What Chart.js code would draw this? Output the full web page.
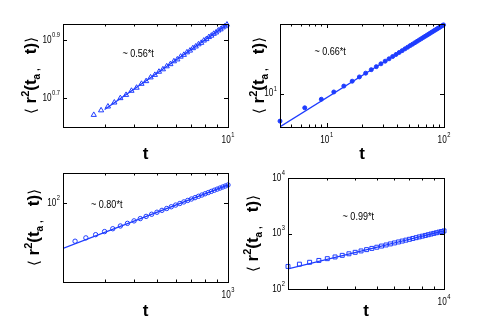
<!DOCTYPE html>
<html><head><meta charset="utf-8">
<script src="https://cdn.jsdelivr.net/npm/chart.js@4"></script>
<style>
html,body{margin:0;padding:0;background:#fff;}
#wrap{position:relative;width:491px;height:327px;overflow:hidden;background:#fff;}
#wrap canvas{position:absolute;left:0;top:0;}
</style></head><body>
<div id="wrap">
<canvas id="c1" width="491" height="327"></canvas>
<canvas id="c2" width="491" height="327"></canvas>
<canvas id="c3" width="491" height="327"></canvas>
<canvas id="c4" width="491" height="327"></canvas>
</div>
<script>
// ---------- DATA ----------
// Panel 1 (triangles)
const p1T = [2.7,2.9,3.1,3.3,3.5,3.7,3.9,4.1,4.3,4.5,4.7,4.9,5.1,5.3,5.5,5.7,5.9,6.1,6.3,6.5,6.7,6.9,7.1,7.3,7.5,7.7,7.9,8.1,8.3,8.5,8.7,8.9,9.1,9.3,9.5,9.7,9.9];
const p1R = [4.40,4.56,4.70,4.85,5.02,5.15,5.32,5.45,5.62,5.74,5.91,6.03,6.18,6.30,6.45,6.56,6.71,6.81,6.96,7.06,7.20,7.30,7.44,7.54,7.67,7.76,7.90,7.99,8.12,8.21,8.33,8.42,8.55,8.63,8.76,8.84,8.96];
const p1FitT = [3.0, 10];
const p1FitR = [4.59, 9.0];
const p1XExp = ['1'];
const p1YExp = ['0.7','0.9'];
const p1Note = '~ 0.56*t';

// Panel 2 (dots)
const p2T = [4,6.5,9,11.5,14,16.5,19,21.5,24,26.5,29,31.5,34,36.5,39,41.5,44,46.5,49,51.5,54,56.5,59,61.5,64,66.5,69,71.5,74,76.5,79,81.5,84,86.5,89,91.5,94,96.5,99];
const p2R = [5.65,7.45,8.90,10.35,11.70,12.95,14.15,15.30,16.45,17.52,18.58,19.63,20.62,21.62,22.57,23.52,24.44,25.35,26.23,27.12,27.97,28.83,29.65,30.49,31.29,32.09,32.88,33.67,34.43,35.20,35.95,36.70,37.43,38.18,38.89,39.62,40.32,41.04,41.72];
const p2FitT = [4, 100];
const p2FitR = [5.02, 42.0];
const p2XExp = ['1','2'];
const p2YExp = ['1'];
const p2Note = '~ 0.66*t';

// Panel 3 (circles)
const p3T = [225,250,275,300,325,350,375,400,425,450,475,500,525,550,575,600,625,650,675,700,725,750,775,800,825,850,875,900,925,950,975,1000];
const p3R = [45.8,49.0,52.3,55.7,59.0,62.4,65.8,69.2,72.5,75.8,79.2,82.5,85.7,89.0,92.2,95.4,98.5,101.7,104.8,107.9,110.9,114.0,117.0,120.0,123.0,126.0,129.0,131.9,134.8,137.7,140.6,143.5];
const p3FitT = [200, 1000];
const p3FitR = [39.6, 143.5];
const p3XExp = ['3'];
const p3YExp = ['2'];
const p3Note = '~ 0.80*t';

// Panel 4 (squares)
const p4T = [2000,2250,2500,2750,3000,3250,3500,3750,4000,4250,4500,4750,5000,5250,5500,5750,6000,6250,6500,6750,7000,7250,7500,7750,8000,8250,8500,8750,9000,9250,9500,9750,10000];
const p4R = [255,280,303,327,352,378,404,431,458,485,512,539,566,594,621,649,676,704,731,759,786,814,841,869,896,923,951,978,1005,1032,1060,1087,1114];
const p4FitT = [2000, 10000];
const p4FitR = [231, 1114];
const p4XExp = ['4'];
const p4YExp = ['2','3','4'];
const p4Note = '~ 0.99*t';

const xTitle = 't';
const yTitleParts = ['\u27E8', ' r', '2', '(t', 'a', ' ,', '   t)', '\u27E9'];

// ---------- DRAWING ----------
const BLUE = 'rgb(30,60,255)';
const FONT = '"Liberation Sans",sans-serif';
const SQZ = 0.82;

function narrowText(ctx, s, x, y) {
  ctx.save(); ctx.translate(x, y); ctx.scale(SQZ, 1); ctx.fillText(s, 0, 0); ctx.restore();
}

function drawPow(ctx, x, y, exp, align) {
  const bf = '10px ' + FONT, ef = '7px ' + FONT;
  ctx.font = bf; const wb = ctx.measureText('10').width * SQZ;
  ctx.font = ef; const we = ctx.measureText(exp).width * SQZ;
  const tot = wb + we + 0.5;
  let sx = align === 'right' ? x - tot : x - tot / 2;
  ctx.textAlign = 'left'; ctx.textBaseline = 'middle';
  ctx.font = bf; narrowText(ctx, '10', sx, y);
  ctx.font = ef; narrowText(ctx, exp, sx + wb + 0.5, y - 5);
}

function drawYTitle(ctx, cx, cy) {
  const fonts = ['15px "DejaVu Sans"', 'bold 17px "Liberation Sans"', 'bold 11px "Liberation Sans"',
    'bold 17px "Liberation Sans"', 'bold 10px "Liberation Sans"', 'bold 10px "Liberation Sans"',
    'bold 17px "Liberation Sans"', '15px "DejaVu Sans"'];
  const dys = [0, 0, -7, 0, 4, 3, 0, 0];
  let tot = 0; const ws = [];
  yTitleParts.forEach((s, i) => { ctx.font = fonts[i]; const w = ctx.measureText(s).width; ws.push(w); tot += w; });
  ctx.save();
  ctx.translate(cx, cy); ctx.rotate(-Math.PI / 2);
  ctx.textAlign = 'left'; ctx.textBaseline = 'alphabetic'; ctx.fillStyle = '#000';
  let x = -tot / 2;
  yTitleParts.forEach((s, i) => { ctx.font = fonts[i]; ctx.fillText(s, x, 5 + dys[i]); x += ws[i]; });
  ctx.restore();
}

const panelPlugin = {
  id: 'panel',
  afterDatasetsDraw(chart, args, o) {
    const ctx = chart.ctx, a = chart.chartArea, xs = chart.scales.x, ys = chart.scales.y;
    ctx.save();
    ctx.strokeStyle = '#000'; ctx.lineWidth = 1;
    ctx.strokeRect(a.left + 0.5, a.top + 0.5, a.right - a.left, a.bottom - a.top);
    const d0 = Math.floor(Math.log10(xs.min)), d1 = Math.ceil(Math.log10(xs.max));
    ctx.beginPath();
    for (let d = d0; d <= d1; d++) {
      for (let m = 1; m <= 9; m++) {
        const v = m * Math.pow(10, d);
        if (v <= xs.min * 1.0001 || v >= xs.max * 0.9999) continue;
        const px = Math.round(xs.getPixelForValue(v)) + 0.5;
        const len = m === 1 ? 4 : 2.5;
        ctx.moveTo(px, a.bottom); ctx.lineTo(px, a.bottom - len);
        ctx.moveTo(px, a.top); ctx.lineTo(px, a.top + len);
      }
    }
    o.yExp.forEach(e => {
      const v = Math.pow(10, parseFloat(e));
      if (v <= ys.min * 1.0001 || v >= ys.max * 0.9999) return;
      const py = Math.round(ys.getPixelForValue(v)) + 0.5;
      ctx.moveTo(a.left, py); ctx.lineTo(a.left + 4, py);
      ctx.moveTo(a.right, py); ctx.lineTo(a.right - 4, py);
    });
    ctx.stroke();
    ctx.fillStyle = '#000';
    o.xExp.forEach(e => {
      const px = xs.getPixelForValue(Math.pow(10, parseFloat(e)));
      drawPow(ctx, px, a.bottom + 13, e, 'center');
    });
    o.yExp.forEach(e => {
      const py = ys.getPixelForValue(Math.pow(10, parseFloat(e)));
      drawPow(ctx, a.left - 3, py, e, 'right');
    });
    ctx.font = '11px ' + FONT; ctx.textAlign = 'left'; ctx.textBaseline = 'middle';
    narrowText(ctx, o.note, a.left + o.nx * (a.right - a.left), a.top + o.ny * (a.bottom - a.top));
    drawYTitle(ctx, o.ytx, (a.top + a.bottom) / 2);
    ctx.restore();
  }
};

function makePanel(id, T, R, fitT, fitR, xr, yr, box, style, xExp, yExp, note) {
  const [L, Tp, Rt, B, ytx, xty] = box;
  const pts = T.map((t, i) => ({x: t, y: R[i]}));
  const fit = fitT.map((t, i) => ({x: t, y: fitR[i]}));
  const padB = 327 - xty - 8;
  const H = xty + 8 - B;
  return new Chart(document.getElementById(id), {
    type: 'scatter',
    data: { datasets: [
      { data: pts, showLine: false, pointStyle: style.ps, pointRadius: style.r, pointHoverRadius: style.r,
        borderColor: BLUE, backgroundColor: style.fill ? BLUE : 'rgba(0,0,0,0)', pointBorderWidth: 1, clip: false },
      { data: fit, showLine: true, pointRadius: 0, borderColor: BLUE, borderWidth: 1.3, fill: false }
    ]},
    options: {
      responsive: false, animation: false, devicePixelRatio: 1,
      layout: { padding: { left: 0, top: Tp, right: 491 - Rt, bottom: padB } },
      plugins: { legend: { display: false }, tooltip: { enabled: false },
        panel: { xExp, yExp, note: note.t, nx: note.x, ny: note.y, ytx } },
      scales: {
        x: { type: 'logarithmic', min: xr[0], max: xr[1],
          ticks: { display: false }, grid: { display: false }, border: { display: false },
          title: { display: true, text: xTitle, color: '#000', padding: 0,
            font: { family: 'Liberation Sans', size: 17, weight: 'bold', lineHeight: 1 } },
          afterFit: s => { s.height = H; } },
        y: { type: 'logarithmic', min: yr[0], max: yr[1],
          ticks: { display: false }, grid: { display: false }, border: { display: false },
          afterFit: s => { s.width = L; } }
      }
    },
    plugins: [panelPlugin]
  });
}

makePanel('c1', p1T, p1R, p1FitT, p1FitR, [2, 10], [4, 9], [63, 24, 228, 127, 31, 155],
  {ps: 'triangle', r: 3, fill: false}, p1XExp, p1YExp, {t: p1Note, x: 0.36, y: 0.29});
makePanel('c2', p2T, p2R, p2FitT, p2FitR, [4, 100], [5, 42.5], [280, 24, 444, 127, 259, 155],
  {ps: 'circle', r: 2, fill: true}, p2XExp, p2YExp, {t: p2Note, x: 0.21, y: 0.27});
makePanel('c3', p3T, p3R, p3FitT, p3FitR, [200, 1000], [20, 183], [63, 173, 228, 282, 34, 311.5],
  {ps: 'circle', r: 2.2, fill: false}, p3XExp, p3YExp, {t: p3Note, x: 0.17, y: 0.29});
makePanel('c4', p4T, p4R, p4FitT, p4FitR, [2000, 10000], [100, 10000], [288, 178, 444, 289, 253, 311.5],
  {ps: 'rect', r: 2.8, fill: false}, p4XExp, p4YExp, {t: p4Note, x: 0.35, y: 0.35});
</script>
</body></html>
